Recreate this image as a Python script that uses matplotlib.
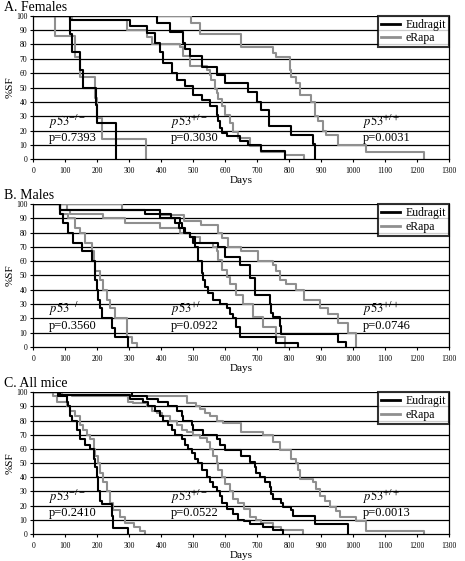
import matplotlib
matplotlib.use("Agg")
import matplotlib.pyplot as plt

plt.rcParams['font.family'] = ['Liberation Serif', 'DejaVu Serif']
plt.rcParams['mathtext.fontset'] = 'stix'

ticks_x = list(range(0, 1301, 100))
ticks_y = list(range(0, 101, 10))
groups = ['-/-', '+/-', '+/+']
pvals_f = ['0.7393', '0.3030', '0.0031']
pvals_m = ['0.3560', '0.0922', '0.0746']
pvals_all = ['0.2410', '0.0522', '0.0013']

# Females
f_ko_eud_t = [0, 114, 120, 146, 156, 195, 200, 257]
f_ko_eud_s = [100, 87.5, 75, 62.5, 50, 37.5, 25, 0]
f_ko_rapa_t = [0, 68, 130, 146, 193, 200, 215, 351]
f_ko_rapa_s = [100, 85.7, 71.4, 57.1, 42.9, 28.6, 14.3, 0]
f_het_eud_t = [0, 114, 302, 354, 380, 395, 406, 432, 450, 474, 500, 526, 552, 573, 578, 583, 589, 604, 645, 671, 713, 786]
f_het_eud_s = [100, 97, 93, 88, 81, 75, 67, 60, 55, 51, 45, 41, 37, 31, 27, 22, 18, 16, 13, 10, 6, 0]
f_het_rapa_t = [0, 120, 292, 354, 372, 459, 469, 490, 542, 552, 557, 568, 573, 578, 589, 600, 615, 625, 641, 677, 713, 786, 848]
f_het_rapa_s = [100, 97, 90, 85, 80, 78, 72, 65, 62, 59, 55, 49, 46, 42, 37, 31, 25, 19, 15, 9, 5, 3, 0]
f_wt_eud_t = [0, 385, 427, 469, 475, 490, 526, 573, 599, 672, 698, 713, 737, 807, 874, 882]
f_wt_eud_s = [100, 95, 89, 81, 77, 72, 64, 59, 53, 47, 40, 34, 23, 17, 11, 0]
f_wt_rapa_t = [0, 494, 520, 650, 750, 760, 802, 807, 822, 833, 869, 880, 890, 906, 916, 953, 1041, 1223]
f_wt_rapa_s = [100, 95, 87, 78, 74, 71, 62, 57, 53, 45, 40, 30, 27, 20, 17, 10, 5, 0]

# Males
m_ko_eud_t = [0, 83, 92, 109, 125, 151, 182, 193, 198, 203, 208, 213, 245, 255, 297]
m_ko_eud_s = [100, 93, 87, 80, 73, 67, 60, 47, 40, 33, 27, 20, 13, 7, 0]
m_ko_rapa_t = [0, 83, 109, 130, 146, 161, 182, 188, 193, 208, 219, 229, 240, 255, 292, 307, 323]
m_ko_rapa_s = [100, 93, 90, 83, 80, 73, 67, 60, 53, 47, 40, 33, 27, 20, 7, 3, 0]
m_het_eud_t = [0, 83, 395, 442, 455, 470, 490, 505, 515, 526, 531, 536, 547, 563, 583, 604, 615, 625, 635, 646, 760, 828]
m_het_eud_s = [100, 96, 90, 87, 83, 80, 77, 70, 60, 52, 47, 42, 38, 33, 30, 27, 23, 20, 14, 7, 3, 0]
m_het_rapa_t = [0, 104, 115, 219, 286, 396, 460, 490, 520, 563, 573, 578, 589, 604, 615, 635, 656, 687, 718, 760, 786]
m_het_rapa_s = [100, 96, 93, 90, 87, 83, 80, 77, 73, 70, 67, 61, 54, 49, 44, 36, 30, 21, 14, 7, 0]
m_wt_eud_t = [0, 83, 349, 430, 460, 465, 475, 490, 500, 577, 598, 645, 677, 692, 739, 744, 750, 770, 775, 953, 979]
m_wt_eud_s = [100, 96, 93, 90, 87, 83, 80, 77, 73, 70, 63, 57, 48, 36, 30, 24, 21, 15, 9, 3.5, 0]
m_wt_rapa_t = [0, 276, 396, 470, 525, 577, 590, 610, 650, 703, 750, 760, 770, 791, 822, 848, 895, 921, 953, 984, 1010]
m_wt_rapa_s = [100, 96, 92, 88, 85, 80, 76, 70, 67, 60, 57, 53, 47, 44, 40, 33, 27, 23, 17, 10, 0]

# All mice
a_ko_eud_t = [0, 78, 104, 109, 115, 120, 135, 146, 161, 177, 188, 193, 198, 203, 208, 213, 245, 250, 297]
a_ko_eud_s = [100, 97, 93, 90, 83, 80, 73, 67, 63, 60, 53, 47, 40, 30, 23, 21, 13, 4, 0]
a_ko_rapa_t = [0, 62, 73, 104, 115, 130, 146, 156, 167, 177, 188, 193, 203, 208, 219, 229, 240, 250, 271, 286, 313, 333, 349]
a_ko_rapa_s = [100, 97, 93, 90, 87, 83, 77, 73, 70, 67, 60, 55, 50, 43, 37, 30, 22, 17, 12, 8, 5, 2, 0]
a_het_eud_t = [0, 83, 302, 344, 359, 380, 396, 406, 422, 432, 443, 464, 474, 484, 495, 505, 516, 526, 542, 552,
               563, 573, 583, 589, 604, 625, 641, 660, 676, 718, 750, 781]
a_het_eud_s = [100, 98, 95, 93, 90, 87, 83, 80, 77, 73, 70, 67, 63, 60, 57, 53, 50, 45, 40, 37,
               33, 30, 27, 22, 18, 14, 10, 9, 7, 5, 3, 0]
a_het_rapa_t = [0, 88, 120, 297, 312, 354, 370, 385, 401, 427, 448, 464, 479, 500, 521, 542, 552, 563, 573, 578,
                589, 599, 615, 625, 640, 660, 677, 697, 713, 750, 776, 843]
a_het_rapa_s = [100, 98, 97, 93, 92, 90, 87, 85, 83, 80, 77, 73, 72, 70, 68, 65, 60, 55, 50, 45,
                40, 35, 30, 25, 22, 18, 12, 10, 8, 5, 3, 0]
a_wt_eud_t = [0, 307, 354, 391, 422, 448, 464, 469, 495, 500, 531, 573, 583, 599, 650, 677, 692, 697, 708, 723,
              739, 744, 750, 776, 781, 807, 812, 880, 984]
a_wt_eud_s = [100, 97, 95, 93, 90, 87, 83, 80, 77, 73, 70, 67, 63, 59, 55, 51, 47, 43, 40, 37,
              33, 28, 25, 22, 19, 17, 13, 7, 0]
a_wt_rapa_t = [0, 88, 285, 479, 510, 521, 537, 552, 573, 594, 650, 718, 750, 770, 807, 822, 828, 833, 874, 885,
               895, 911, 927, 947, 958, 1010, 1041, 1223]
a_wt_rapa_s = [100, 98, 97, 92, 90, 88, 85, 83, 80, 78, 72, 70, 65, 59, 53, 50, 45, 39, 37, 32,
               27, 23, 19, 16, 12, 9, 2, 0]

panels = [
    ('A. Females', pvals_f,
     [(f_ko_eud_t, f_ko_eud_s), (f_het_eud_t, f_het_eud_s), (f_wt_eud_t, f_wt_eud_s)],
     [(f_ko_rapa_t, f_ko_rapa_s), (f_het_rapa_t, f_het_rapa_s), (f_wt_rapa_t, f_wt_rapa_s)]),
    ('B. Males', pvals_m,
     [(m_ko_eud_t, m_ko_eud_s), (m_het_eud_t, m_het_eud_s), (m_wt_eud_t, m_wt_eud_s)],
     [(m_ko_rapa_t, m_ko_rapa_s), (m_het_rapa_t, m_het_rapa_s), (m_wt_rapa_t, m_wt_rapa_s)]),
    ('C. All mice', pvals_all,
     [(a_ko_eud_t, a_ko_eud_s), (a_het_eud_t, a_het_eud_s), (a_wt_eud_t, a_wt_eud_s)],
     [(a_ko_rapa_t, a_ko_rapa_s), (a_het_rapa_t, a_het_rapa_s), (a_wt_rapa_t, a_wt_rapa_s)]),
]

# axes boxes in figure fractions (left, bottom, width, height)
boxes = [(0.072, 0.716, 0.8935, 0.256),
         (0.072, 0.3815, 0.8935, 0.255),
         (0.072, 0.048, 0.8935, 0.253)]
title_y = [0.981, 0.646, 0.311]   # baseline of panel titles
label_x = [47, 430, 1030]

grey = '#8f8f8f'
fig = plt.figure(figsize=(4.65, 5.61), dpi=100)

for (title, pv, eud, rapa), box, ty in zip(panels, boxes, title_y):
    ax = fig.add_axes(box)
    for yv in ticks_y[1:]:
        ax.axhline(yv, color='black', lw=0.9, zorder=1)
    for t, s in rapa:
        ax.step(t, s, where='post', color=grey, lw=1.5, zorder=2)
    for t, s in eud:
        ax.step(t, s, where='post', color='black', lw=1.5, zorder=3)
    # empty lines only for the legend
    ax.plot([], [], color='black', lw=2, label='Eudragit')
    ax.plot([], [], color=grey, lw=2, label='eRapa')
    for g, p, xpos in zip(groups, pv, label_x):
        ax.text(xpos, 20, r'$\mathit{p53}^{%s}$' % g, fontsize=9, ha='left', va='bottom', zorder=5)
        ax.text(xpos, 10.5, 'p=' + p, fontsize=9, ha='left', va='bottom', zorder=5)
    ax.set_xlim(0, 1300)
    ax.set_ylim(0, 100)
    ax.set_xticks(ticks_x)
    ax.set_yticks(ticks_y)
    ax.tick_params(labelsize=5.5, length=2.5, width=0.8, pad=2)
    ax.tick_params(axis='x', pad=3)
    ax.spines['top'].set_visible(False)
    for sp in ['left', 'bottom', 'right']:
        ax.spines[sp].set_linewidth(0.9)
    ax.set_xlabel('Days', fontsize=8, labelpad=1)
    ax.set_ylabel('%SF', fontsize=8, labelpad=1)
    leg = ax.legend(loc='upper right', fontsize=8.5, frameon=True, fancybox=False,
                    borderpad=0.25, handlelength=1.6, handletextpad=0.5, labelspacing=0.15,
                    borderaxespad=0.0)
    leg.get_frame().set_edgecolor('black')
    leg.get_frame().set_linewidth(1.5)
    leg.set_zorder(6)
    fig.text(0.008, ty, title, fontsize=10, ha='left', va='baseline')

plt.savefig('out.png', dpi=100)
